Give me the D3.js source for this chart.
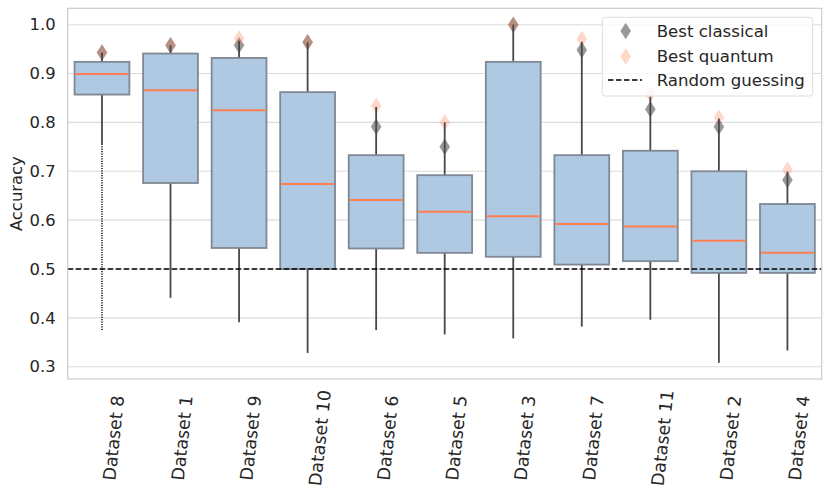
<!DOCTYPE html>
<html><head><meta charset="utf-8">
<script src="https://cdn.jsdelivr.net/npm/d3@7"></script>
<style>body{margin:0;background:#fff}svg{display:block;font-family:"DejaVu Sans",sans-serif}</style>
</head><body><svg id="c" width="830" height="493"></svg>
<script>
const categories = ["Dataset 8","Dataset 1","Dataset 9","Dataset 10","Dataset 6","Dataset 5","Dataset 3","Dataset 7","Dataset 11","Dataset 2","Dataset 4"];
const q1 =          [0.857,0.676,0.543,0.500,0.542,0.533,0.525,0.509,0.516,0.492,0.492];
const median =      [0.899,0.866,0.825,0.674,0.641,0.617,0.608,0.592,0.587,0.558,0.533];
const q3 =          [0.924,0.941,0.932,0.862,0.733,0.692,0.924,0.733,0.742,0.700,0.633];
const whiskerLow =  [0.756,0.441,0.391,0.328,0.375,0.366,0.358,0.382,0.396,0.308,0.333];
const whiskerHigh = [0.943,0.958,0.967,0.964,0.832,0.800,1.000,0.965,0.853,0.808,0.699];
const flierLow =    [0.373,null,null,null,null,null,null,null,null,null,null];
const bestClassical=[0.943,0.958,0.958,0.964,0.791,0.750,1.000,0.948,0.827,0.791,0.682];
const bestQuantum = [0.943,0.958,0.972,0.964,0.834,0.800,1.000,0.971,0.858,0.810,0.703];
const randomGuess = 0.5;
const yTicks = [0.3,0.4,0.5,0.6,0.7,0.8,0.9,1.0];
const legendLabels = ["Best classical","Best quantum","Random guessing"];

const W=830,H=493, m={l:67.7,r:8.3,t:8.3,b:114};
const svg=d3.select("#c");
const x=d3.scaleBand().domain(categories).range([m.l,W-m.r]).paddingInner(0).paddingOuter(0);
const y=d3.scaleLinear().domain([0.2748,1.0336]).range([H-m.b,m.t]);
const bw=x.bandwidth()*0.8;
const cx=i=>x(categories[i])+x.bandwidth()/2;

// grid
svg.append("g").selectAll("line").data(yTicks).join("line")
  .attr("x1",m.l).attr("x2",W-m.r).attr("y1",d=>y(d)).attr("y2",d=>y(d))
  .attr("stroke","#dcdcdc").attr("stroke-width",1.1);

// y axis
const ya=svg.append("g").attr("transform",`translate(${m.l},0)`)
  .call(d3.axisLeft(y).tickValues(yTicks).tickFormat(d3.format(".1f")).tickSize(0).tickPadding(12));
ya.select(".domain").remove();
ya.selectAll("text").attr("font-size",16.4).attr("fill","#262626").attr("font-family","DejaVu Sans");

// markers (drawn beneath whiskers)
const diamond=(cxp,cyp)=>`M${cxp},${cyp-8.3}L${cxp+5.3},${cyp}L${cxp},${cyp+8.3}L${cxp-5.3},${cyp}Z`;
svg.append("g").selectAll("path").data(bestClassical).join("path")
  .attr("d",(d,i)=>diamond(cx(i),y(d))).attr("fill","rgba(0,0,0,0.4)");
svg.append("g").selectAll("path").data(bestQuantum).join("path")
  .attr("d",(d,i)=>diamond(cx(i),y(d))).attr("fill","rgba(255,127,80,0.3)");

const g=svg.append("g");
// whiskers
g.selectAll("line.wh").data(categories).join("line").attr("class","wh")
  .attr("x1",(d,i)=>cx(i)).attr("x2",(d,i)=>cx(i)).attr("y1",(d,i)=>y(q3[i])).attr("y2",(d,i)=>y(whiskerHigh[i]))
  .attr("stroke","#474747").attr("stroke-width",1.8);
g.selectAll("line.wl").data(categories).join("line").attr("class","wl")
  .attr("x1",(d,i)=>cx(i)).attr("x2",(d,i)=>cx(i)).attr("y1",(d,i)=>y(q1[i])).attr("y2",(d,i)=>y(whiskerLow[i]))
  .attr("stroke","#474747").attr("stroke-width",1.8);
g.selectAll("line.fl").data(categories.filter((d,i)=>flierLow[i]!=null)).join("line").attr("class","fl")
  .attr("x1",d=>cx(categories.indexOf(d))).attr("x2",d=>cx(categories.indexOf(d)))
  .attr("y1",d=>y(whiskerLow[categories.indexOf(d)])).attr("y2",d=>y(flierLow[categories.indexOf(d)]))
  .attr("stroke","#3a3a3a").attr("stroke-width",1.8).attr("stroke-dasharray","1.2,1.2");
// boxes
g.selectAll("rect").data(categories).join("rect")
  .attr("x",(d,i)=>cx(i)-bw/2).attr("width",bw)
  .attr("y",(d,i)=>y(q3[i])).attr("height",(d,i)=>y(q1[i])-y(q3[i]))
  .attr("fill","#afc9e3").attr("stroke","#7f8893").attr("stroke-width",1.8);
// medians
g.selectAll("line.md").data(median).join("line").attr("class","md")
  .attr("x1",(d,i)=>cx(i)-bw/2+0.9).attr("x2",(d,i)=>cx(i)+bw/2-0.9).attr("y1",d=>y(d)).attr("y2",d=>y(d))
  .attr("stroke","#ff7f50").attr("stroke-width",2);

// random guessing line
svg.append("line").attr("x1",m.l).attr("x2",W-m.r).attr("y1",y(randomGuess)).attr("y2",y(randomGuess))
  .attr("stroke","#000").attr("stroke-width",1.5).attr("stroke-dasharray","5.5,2.5");

// frame
svg.append("rect").attr("x",m.l).attr("y",m.t).attr("width",W-m.l-m.r).attr("height",H-m.t-m.b)
  .attr("fill","none").attr("stroke","#cccccc").attr("stroke-width",1.2);

// x labels
const xl=svg.append("g");
categories.forEach((c,i)=>{
  const t=xl.append("text").text(c).attr("font-size",17.5).attr("fill","#262626")
    .attr("text-anchor","middle").attr("dominant-baseline","central");
  const w=t.node().getComputedTextLength();
  const a=84*Math.PI/180;
  const bwid=w*Math.cos(a)+12.7*Math.sin(a);
  const px=cx(i)+1+bwid/2, py=438;
  t.attr("transform",`translate(${px},${py}) rotate(-84)`);
});

// y label
svg.append("text").text("Accuracy").attr("font-size",16.4).attr("fill","#262626")
  .attr("text-anchor","middle").attr("transform",`translate(22,${(m.t+H-m.b)/2}) rotate(-90)`);

// legend
const lg=svg.append("g");
lg.append("rect").attr("x",602.3).attr("y",17.3).attr("width",210.4).attr("height",78.7).attr("rx",3)
  .attr("fill","rgba(255,255,255,0.8)").attr("stroke","#dddddd").attr("stroke-width",1);
const rows=[31,56.5,80];
lg.append("path").attr("d",diamond(625.7,rows[0])).attr("fill","rgba(0,0,0,0.4)");
lg.append("path").attr("d",diamond(625.7,rows[1])).attr("fill","rgba(255,127,80,0.3)");
lg.append("line").attr("x1",608).attr("x2",642).attr("y1",rows[2]).attr("y2",rows[2])
  .attr("stroke","#000").attr("stroke-width",1.5).attr("stroke-dasharray","5.5,2.5");
lg.selectAll("text").data(legendLabels).join("text").text(d=>d)
  .attr("x",656.7).attr("y",(d,i)=>rows[i]).attr("dominant-baseline","central")
  .attr("font-size",16.6).attr("fill","#262626");
</script></body></html>
